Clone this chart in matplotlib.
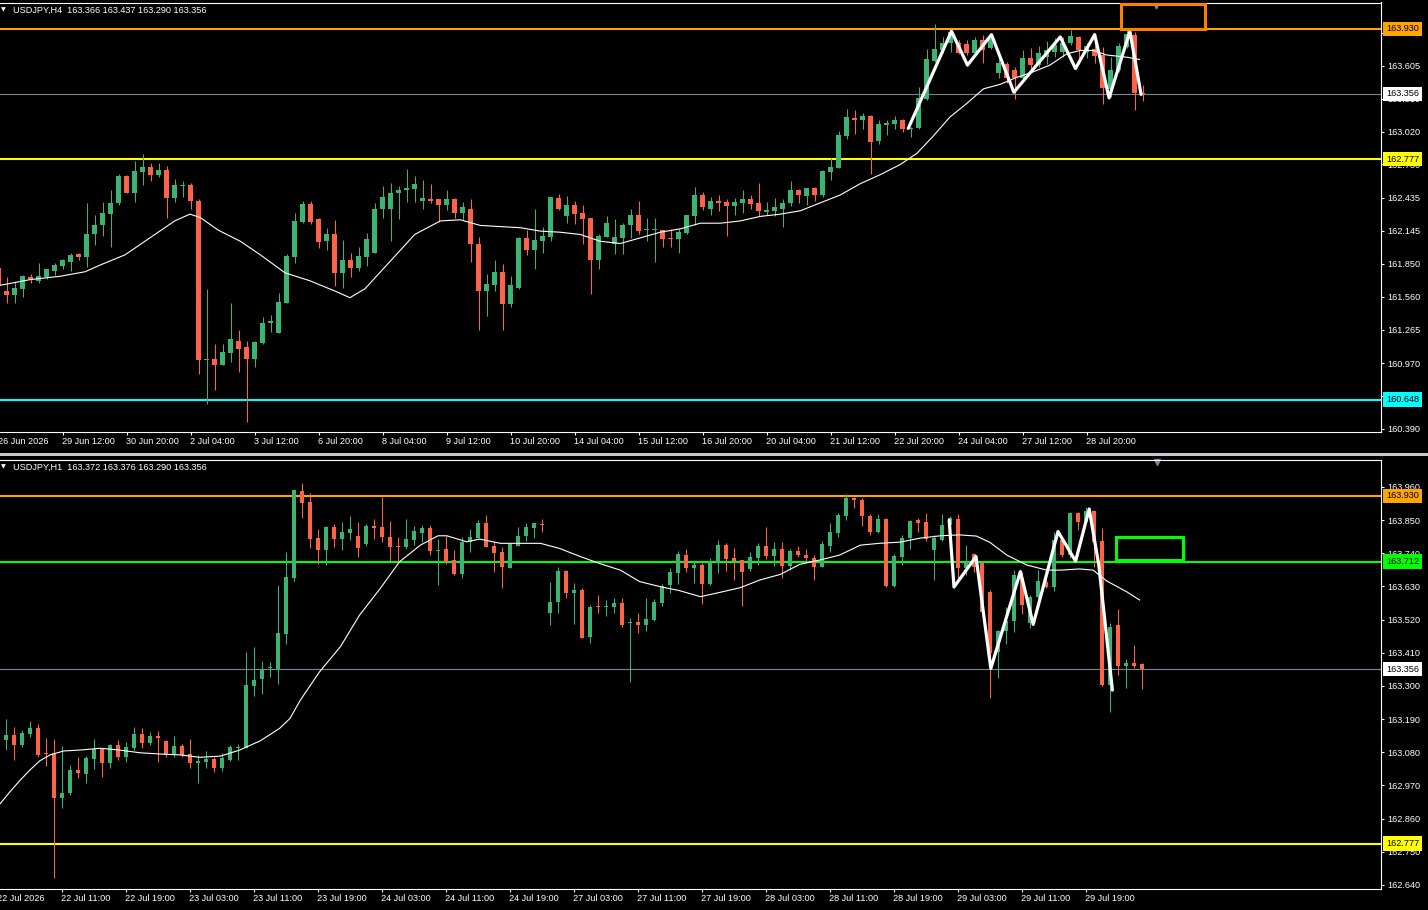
"""
USDJPY H4 / H1 two-panel candle chart in MT4 colours.
"""

import numpy as np
import matplotlib
matplotlib.use("Agg")
import matplotlib.pyplot as plt
from matplotlib.patches import Rectangle
from matplotlib.transforms import blended_transform_factory as blend

plt.rcParams['font.family'] = ['Liberation Sans', 'DejaVu Sans']

# ---------------- H4 panel data ----------------
h4_open = [161.81,161.61,161.57,161.63,161.73,161.70,161.73,161.79,161.83,161.87,161.94,161.91,
           162.11,162.19,162.29,162.39,162.63,162.48,162.66,162.71,162.64,162.68,162.43,162.54,
           162.55,162.41,161.00,161.01,160.95,161.06,161.17,161.11,161.01,161.15,161.33,161.24,
           161.50,161.91,162.22,162.38,162.25,162.05,162.11,161.77,161.88,161.81,161.91,161.95,
           162.34,162.34,162.48,162.50,162.51,162.41,162.42,162.42,162.37,162.42,162.30,162.34,
           162.03,161.61,161.66,161.78,161.49,161.64,162.08,161.97,162.05,162.09,162.43,162.27,
           162.37,162.30,162.26,161.88,162.09,162.03,162.08,162.19,162.28,162.15,162.15,162.15,
           162.08,162.07,162.12,162.27,162.46,162.34,162.41,162.40,162.36,162.39,162.42,162.39,
           162.31,162.32,162.34,162.39,162.50,162.45,162.52,162.46,162.66,162.70,162.98,163.14,
           163.12,163.16,162.94,163.08,163.09,163.12,163.04,163.05,163.31,163.65,163.74,163.81,
           163.81,163.80,163.72,163.83,163.76,163.54,163.62,163.57,163.50,163.67,163.61,163.68,
           163.73,163.73,163.81,163.86,163.73,163.75,163.70,163.40,163.57,163.77,163.88,163.366]
h4_high = [161.82,161.73,161.69,161.75,161.76,161.86,161.80,161.86,161.89,161.95,161.95,162.39,
           162.28,162.40,162.50,162.65,162.64,162.76,162.82,162.74,162.74,162.72,162.60,162.58,
           162.57,162.42,161.63,161.14,161.14,161.50,161.26,161.17,161.17,161.38,161.40,161.59,
           161.94,162.30,162.41,162.41,162.26,162.17,162.24,162.06,161.95,162.00,162.12,162.39,
           162.54,162.57,162.54,162.69,162.63,162.59,162.56,162.42,162.50,162.43,162.40,162.42,
           162.09,161.76,161.88,161.85,161.74,162.09,162.15,162.34,162.18,162.44,162.47,162.45,
           162.41,162.37,162.26,162.11,162.27,162.25,162.21,162.34,162.41,162.26,162.26,162.15,
           162.16,162.16,162.28,162.53,162.49,162.44,162.46,162.42,162.43,162.50,162.46,162.57,
           162.40,162.43,162.42,162.58,162.51,162.52,162.53,162.68,162.79,163.03,163.22,163.21,
           163.19,163.17,163.12,163.12,163.16,163.13,163.06,163.42,163.75,163.97,163.86,163.93,
           163.83,163.83,163.86,163.88,163.89,163.69,163.64,163.59,163.74,163.76,163.78,163.82,
           163.85,163.86,163.92,163.87,163.81,163.89,163.77,163.68,163.81,163.94,163.90,163.437]
h4_low = [161.62,161.50,161.50,161.56,161.68,161.68,161.72,161.75,161.80,161.79,161.88,161.82,
          162.02,162.10,162.00,162.37,162.48,162.40,162.55,162.58,162.62,162.26,162.40,162.44,
          162.34,160.87,160.61,160.73,160.95,160.98,160.89,160.45,160.94,161.14,161.25,161.24,
          161.50,161.86,162.21,162.20,161.99,161.97,161.65,161.64,161.73,161.79,161.83,161.95,
          162.26,162.05,162.25,162.40,162.40,162.34,162.39,162.22,162.33,162.26,162.24,161.87,
          161.26,161.39,161.61,161.26,161.47,161.63,161.93,161.80,161.95,162.05,162.33,162.21,
          162.20,162.03,161.58,161.80,162.09,161.94,161.94,162.08,162.11,162.05,161.87,162.00,
          162.00,161.95,162.11,162.19,162.33,162.28,162.32,162.10,162.28,162.30,162.34,162.27,
          162.28,162.27,162.18,162.36,162.39,162.37,162.41,162.44,162.59,162.70,162.96,163.00,
          163.04,162.65,162.91,162.99,163.04,163.02,162.97,163.04,163.30,163.64,163.72,163.73,
          163.71,163.70,163.69,163.63,163.75,163.50,163.45,163.31,163.48,163.57,163.59,163.62,
          163.68,163.68,163.79,163.63,163.67,163.63,163.27,163.33,163.55,163.76,163.21,163.290]
h4_close = [161.66,161.57,161.64,161.74,161.72,161.74,161.80,161.84,161.88,161.93,161.91,162.11,
            162.19,162.30,162.39,162.63,162.48,162.67,162.71,162.64,162.68,162.43,162.55,162.55,
            162.41,161.00,161.01,160.95,161.07,161.18,161.10,161.01,161.16,161.33,161.34,161.51,
            161.92,162.23,162.38,162.22,162.04,162.11,161.77,161.88,161.81,161.92,162.07,162.34,
            162.44,162.48,162.50,162.52,162.56,162.43,162.41,162.37,162.42,162.30,162.35,162.03,
            161.61,161.67,161.78,161.49,161.66,162.08,161.97,162.06,162.10,162.44,162.34,162.37,
            162.29,162.25,161.88,162.10,162.21,162.09,162.19,162.28,162.14,162.15,162.16,162.07,
            162.07,162.13,162.28,162.46,162.35,162.41,162.39,162.36,162.40,162.42,162.38,162.32,
            162.33,162.35,162.39,162.50,162.46,162.52,162.46,162.67,162.71,162.99,163.15,163.12,
            163.16,162.93,163.09,163.10,163.12,163.04,163.05,163.32,163.66,163.75,163.81,163.90,
            163.72,163.72,163.83,163.74,163.84,163.63,163.50,163.50,163.67,163.61,163.72,163.74,
            163.79,163.81,163.87,163.74,163.78,163.69,163.41,163.57,163.78,163.89,163.36,163.356]

h4_ma_x = [0.2,3.9,7.7,10.8,12.7,15.8,18.9,22.0,23.9,25.2,27.4,30.2,32.7,35.8,38.9,42.0,43.9,45.8,
           48.9,52.0,55.2,57.7,60.2,62.7,65.2,67.7,70.2,72.7,75.2,77.7,80.2,82.7,85.2,87.7,90.2,
           92.7,95.2,97.7,100.2,102.7,105.2,107.7,110.2,112.7,114.8,116.8,118.9,121.0,123.1,
           125.2,127.2,129.3,131.4,133.5,135.2,136.8,138.5,141.0,142.6]
h4_ma = [161.66,161.71,161.74,161.78,161.84,161.93,162.08,162.23,162.29,162.26,162.15,162.05,
         161.93,161.77,161.70,161.61,161.55,161.63,161.87,162.11,162.23,162.24,162.19,162.18,
         162.17,162.14,162.13,162.11,162.05,162.03,162.08,162.13,162.16,162.21,162.21,162.23,
         162.27,162.29,162.32,162.39,162.46,162.56,162.64,162.73,162.83,162.98,163.15,163.27,
         163.40,163.44,163.50,163.55,163.61,163.71,163.74,163.74,163.70,163.68,163.66]

h4_zig_x = [113.7, 119.1, 121.1, 124.1, 126.9, 132.7, 134.6, 137.0, 138.8, 141.4, 142.8]
h4_zig = [163.05, 163.91, 163.61, 163.88, 163.37, 163.86, 163.58, 163.88, 163.32, 163.91, 163.35]

h4_dates = ["26 Jun 2026", "29 Jun 12:00", "30 Jun 20:00", "2 Jul 04:00", "3 Jul 12:00",
            "6 Jul 20:00", "8 Jul 04:00", "9 Jul 12:00", "10 Jul 20:00", "14 Jul 04:00",
            "15 Jul 12:00", "16 Jul 20:00", "20 Jul 04:00", "21 Jul 12:00", "22 Jul 20:00",
            "24 Jul 04:00", "27 Jul 12:00", "28 Jul 20:00"]
h4_ticks = [163.895, 163.605, 163.310, 163.020, 162.730, 162.435, 162.145, 161.850,
            161.560, 161.265, 160.970, 160.680, 160.390]
h4_levels = [163.930, 162.777, 160.648]
h4_box = [140.3, 150.8, 163.930, 164.151]   # x0, x1, y0, y1

# ---------------- H1 panel data ----------------
h1_open = [163.177,163.120,163.137,163.104,163.140,163.160,163.077,163.077,162.928,162.945,163.021,163.008,
           163.057,163.091,163.044,163.104,163.064,163.094,163.140,163.110,163.134,163.117,163.071,163.101,
           163.074,163.044,163.047,163.057,163.028,163.054,163.094,163.094,163.300,163.323,163.359,163.356,
           163.472,163.658,163.947,163.910,163.791,163.751,163.827,163.787,163.807,163.797,163.771,163.830,
           163.827,163.794,163.764,163.761,163.784,163.807,163.824,163.748,163.754,163.718,163.671,163.777,
           163.791,163.840,163.764,163.744,163.691,163.764,163.797,163.824,163.837,163.542,163.578,163.681,
           163.608,163.618,163.462,163.565,163.562,163.562,163.575,163.509,163.512,163.502,163.519,163.575,
           163.635,163.675,163.734,163.691,163.701,163.638,163.711,163.767,163.724,163.718,163.688,163.724,
           163.764,163.731,163.754,163.698,163.748,163.734,163.724,163.694,163.764,163.807,163.864,163.923,
           163.917,163.864,163.811,163.854,163.631,163.728,163.791,163.850,163.844,163.751,163.784,163.834,
           163.854,163.691,163.738,163.708,163.611,163.412,163.482,163.515,163.658,163.509,163.595,163.645,
           163.628,163.784,163.734,163.874,163.844,163.880,163.781,163.303,163.502,163.366,163.376,163.372]
h1_high = [163.187,163.190,163.164,163.154,163.183,163.174,163.127,163.124,163.101,163.037,163.064,163.067,
           163.124,163.094,163.107,163.120,163.114,163.164,163.160,163.147,163.150,163.120,163.134,163.107,
           163.124,163.071,163.084,163.064,163.077,163.104,163.107,163.412,163.429,163.383,163.379,163.635,
           163.744,163.953,163.973,163.940,163.821,163.830,163.837,163.844,163.864,163.844,163.837,163.854,
           163.927,163.847,163.794,163.854,163.830,163.834,163.834,163.787,163.797,163.751,163.794,163.821,
           163.850,163.867,163.777,163.761,163.771,163.827,163.840,163.840,163.854,163.645,163.694,163.684,
           163.641,163.625,163.568,163.602,163.585,163.592,163.592,163.525,163.542,163.592,163.588,163.638,
           163.691,163.748,163.754,163.711,163.708,163.724,163.784,163.774,163.757,163.718,163.744,163.774,
           163.827,163.777,163.777,163.754,163.764,163.754,163.734,163.781,163.840,163.874,163.937,163.927,
           163.923,163.870,163.870,163.857,163.738,163.801,163.850,163.857,163.874,163.801,163.870,163.864,
           163.870,163.767,163.741,163.714,163.618,163.485,163.562,163.684,163.678,163.602,163.684,163.655,
           163.811,163.791,163.877,163.877,163.894,163.884,163.824,163.509,163.555,163.389,163.436,163.376]
h1_low = [163.104,163.087,163.054,163.097,163.130,163.064,163.034,162.663,162.895,162.938,162.994,162.978,
          163.024,162.998,163.028,163.054,163.047,163.087,163.094,163.104,163.047,163.064,163.064,163.064,
          163.028,162.978,163.028,163.014,163.018,163.051,163.054,163.094,163.266,163.273,163.329,163.306,
          163.439,163.648,163.857,163.757,163.704,163.701,163.761,163.751,163.784,163.728,163.764,163.787,
          163.777,163.714,163.711,163.754,163.767,163.777,163.734,163.635,163.704,163.668,163.658,163.744,
          163.791,163.761,163.678,163.625,163.691,163.764,163.781,163.791,163.811,163.502,163.542,163.592,
          163.505,163.459,163.442,163.542,163.532,163.542,163.495,163.313,163.475,163.482,163.515,163.565,
          163.608,163.638,163.678,163.641,163.572,163.635,163.675,163.681,163.651,163.565,163.681,163.701,
          163.721,163.698,163.658,163.684,163.728,163.711,163.651,163.694,163.744,163.794,163.850,163.890,
          163.830,163.801,163.807,163.628,163.628,163.701,163.754,163.811,163.781,163.651,163.781,163.827,
          163.658,163.668,163.678,163.545,163.260,163.326,163.439,163.479,163.538,163.492,163.592,163.625,
          163.615,163.728,163.724,163.817,163.840,163.694,163.300,163.213,163.336,163.293,163.359,163.290]
h1_close = [163.120,163.137,163.104,163.144,163.160,163.071,163.074,162.928,162.945,163.021,163.011,163.061,
            163.091,163.044,163.104,163.064,163.097,163.140,163.110,163.134,163.127,163.071,163.101,163.071,
            163.044,163.051,163.057,163.028,163.061,163.097,163.097,163.303,163.320,163.356,163.363,163.475,
            163.661,163.950,163.907,163.787,163.751,163.827,163.787,163.811,163.821,163.757,163.830,163.824,
            163.794,163.761,163.761,163.787,163.814,163.824,163.748,163.751,163.711,163.671,163.777,163.794,
            163.840,163.761,163.741,163.694,163.771,163.797,163.827,163.840,163.834,163.578,163.681,163.608,
            163.618,163.459,163.562,163.562,163.565,163.575,163.502,163.512,163.502,163.522,163.578,163.631,
            163.678,163.738,163.691,163.701,163.638,163.711,163.767,163.721,163.714,163.678,163.728,163.764,
            163.731,163.754,163.698,163.748,163.734,163.724,163.694,163.771,163.811,163.867,163.923,163.917,
            163.864,163.811,163.854,163.631,163.731,163.791,163.847,163.840,163.787,163.791,163.834,163.857,
            163.691,163.711,163.694,163.545,163.409,163.482,163.515,163.668,163.568,163.595,163.648,163.628,
            163.784,163.734,163.874,163.844,163.880,163.777,163.303,163.495,163.366,163.376,163.366,163.356]

h1_ma_x = [0.2,1.5,2.8,4.0,5.2,6.5,8.2,10.2,12.8,15.2,17.8,20.2,22.8,25.2,27.8,30.2,32.8,35.2,36.5,
           37.8,40.2,42.8,45.2,47.8,50.2,52.8,55.0,56.1,58.6,60.2,62.8,65.2,67.8,70.2,72.8,75.2,77.8,
           80.2,82.8,85.2,87.8,90.2,92.8,95.2,97.8,100.2,102.8,105.2,107.8,110.2,112.8,115.2,117.8,
           120.2,122.3,124.0,126.1,128.6,131.1,132.8,135.2,136.9,138.6,141.1,142.7]
h1_ma = [162.907,162.949,162.988,163.021,163.051,163.071,163.084,163.087,163.093,163.087,163.078,
         163.074,163.071,163.063,163.067,163.087,163.118,163.159,163.192,163.253,163.347,163.430,
         163.535,163.624,163.712,163.767,163.798,163.798,163.778,163.787,163.773,163.773,163.773,
         163.756,163.729,163.706,163.684,163.646,163.629,163.616,163.596,163.610,163.626,163.651,
         163.670,163.703,163.718,163.734,163.767,163.773,163.777,163.790,163.798,163.801,163.797,
         163.776,163.734,163.701,163.684,163.684,163.688,163.684,163.648,163.612,163.585]

h1_zig_x = [118.9, 119.5, 122.25, 124.1, 127.8, 129.4, 132.5, 134.7, 136.4, 137.6, 139.3]
h1_zig = [163.850, 163.628, 163.729, 163.358, 163.679, 163.504, 163.812, 163.714, 163.887, 163.701, 163.286]

h1_dates = ["22 Jul 2026", "22 Jul 11:00", "22 Jul 19:00", "23 Jul 03:00", "23 Jul 11:00",
            "23 Jul 19:00", "24 Jul 03:00", "24 Jul 11:00", "24 Jul 19:00", "27 Jul 03:00",
            "27 Jul 11:00", "27 Jul 19:00", "28 Jul 03:00", "28 Jul 11:00", "28 Jul 19:00",
            "29 Jul 03:00", "29 Jul 11:00", "29 Jul 19:00"]
h1_ticks = [163.960, 163.850, 163.740, 163.630, 163.520, 163.410, 163.300, 163.190,
            163.080, 162.970, 162.860, 162.750, 162.640]
h1_levels = [163.930, 163.712, 162.777]
h1_box = [139.75, 148.1, 163.717, 163.794]

bid = 163.356

for arr in (h4_high, h4_low, h4_close):
    assert len(arr) == len(h4_open)
for arr in (h1_high, h1_low, h1_close):
    assert len(arr) == len(h1_open)

GREEN = '#3CB371'
RED = '#FF6347'
LEVEL_COLORS = {163.930: '#FFA500', 162.777: '#FFFF00', 160.648: '#00FFFF', 163.712: '#00FF00'}
FS = 6.6


def candles(ax, o, h, l, c, px):
    o, h, l, c = map(np.asarray, (o, h, l, c))
    x = np.arange(len(o))
    col = np.where(c >= o, GREEN, RED)
    ax.vlines(x, l, h, colors=col, linewidth=0.75, zorder=3)
    body = np.maximum(np.abs(c - o), px)
    ax.bar(x, body, width=0.62, bottom=np.minimum(o, c), color=col,
           linewidth=0, zorder=3)


def tag(ax, y, txt, fc):
    ax.text(1.0038, y, txt, transform=blend(ax.transAxes, ax.transData),
            fontsize=FS, color='black', ha='left', va='center', clip_on=False,
            zorder=6, bbox=dict(boxstyle='square,pad=0.3', fc=fc, ec='none'))


def style_panel(ax, ylim, xlim, ticks, dates, header):
    ax.set_facecolor('black')
    ax.set_xlim(*xlim)
    ax.set_ylim(*ylim)
    for side in ('top', 'right', 'bottom'):
        ax.spines[side].set_color('white')
        ax.spines[side].set_linewidth(0.8)
    ax.spines['left'].set_visible(False)
    ax.yaxis.tick_right()
    ax.set_yticks(ticks)
    ax.set_yticklabels(["%.3f" % t for t in ticks])
    ax.tick_params(axis='y', colors='white', length=2.3, width=0.8,
                   labelsize=FS, pad=2.2)
    ax.set_xticks(np.arange(8, 8 * len(dates), 8))
    ax.tick_params(axis='x', colors='white', length=2.3, width=0.8,
                   labelbottom=False)
    tr = blend(ax.transData, ax.transAxes)
    for k, d in enumerate(dates):
        ax.text(8 * k - 0.1, -0.021, d, transform=tr, fontsize=FS,
                color='white', ha='left', va='center', clip_on=False)
    ax.text(0.0005, 0.9825, "\u25bc", transform=ax.transAxes, fontsize=4.5,
            color='white', ha='left', va='center', family='DejaVu Sans')
    ax.text(0.0092, 0.9825, header, transform=ax.transAxes, fontsize=FS,
            color='white', ha='left', va='center')


fig = plt.figure(figsize=(14.28, 9.1), dpi=100, facecolor='black')

# ---- H4 ----
ax1 = fig.add_axes([0, 478 / 910, 1381 / 1428, 429.5 / 910])
style_panel(ax1, (160.3605, 164.1647), (0.1625, 172.79), h4_ticks, h4_dates,
            "USDJPY,H4  163.366 163.437 163.290 163.356")
ax1.axhline(bid, color='#778899', linewidth=0.8, zorder=2)
for lv in h4_levels:
    ax1.axhline(lv, color=LEVEL_COLORS[lv], linewidth=1.5, zorder=2)
ax1.plot(h4_ma_x, h4_ma, color='white', linewidth=0.8, zorder=4)
candles(ax1, h4_open, h4_high, h4_low, h4_close, 0.009)
ax1.plot(h4_zig_x, h4_zig, color='white', linewidth=2.3, zorder=5,
         solid_joinstyle='round', solid_capstyle='round')
ax1.add_patch(Rectangle((h4_box[0], h4_box[2]), h4_box[1] - h4_box[0],
                        h4_box[3] - h4_box[2], fill=False, edgecolor='#FF8000',
                        linewidth=2.2, zorder=5))
ax1.plot([144.7], [0.992], marker='v', markersize=3.5, color='#778899',
         transform=blend(ax1.transData, ax1.transAxes), clip_on=False)
tag(ax1, 163.930, "163.930", LEVEL_COLORS[163.930])
tag(ax1, bid, "163.356", 'white')
tag(ax1, 162.777, "162.777", LEVEL_COLORS[162.777])
tag(ax1, 160.648, "160.648", LEVEL_COLORS[160.648])

# ---- H1 ----
ax2 = fig.add_axes([0, 21 / 910, 1381 / 1428, 429.5 / 910])
style_panel(ax2, (162.6261, 164.0511), (0.25, 172.875), h1_ticks, h1_dates,
            "USDJPY,H1  163.372 163.376 163.290 163.356")
ax2.axhline(bid, color='#778899', linewidth=0.8, zorder=2)
for lv in h1_levels:
    ax2.axhline(lv, color=LEVEL_COLORS[lv], linewidth=1.5, zorder=2)
ax2.plot(h1_ma_x, h1_ma, color='white', linewidth=0.8, zorder=4)
candles(ax2, h1_open, h1_high, h1_low, h1_close, 0.0033)
ax2.plot(h1_zig_x, h1_zig, color='white', linewidth=2.3, zorder=5,
         solid_joinstyle='round', solid_capstyle='round')
ax2.add_patch(Rectangle((h1_box[0], h1_box[2]), h1_box[1] - h1_box[0],
                        h1_box[3] - h1_box[2], fill=False, edgecolor='#00FF00',
                        linewidth=2.2, zorder=5))
ax2.plot([144.9], [0.994], marker='v', markersize=5, color='#778899',
         transform=blend(ax2.transData, ax2.transAxes), clip_on=False)
tag(ax2, 163.930, "163.930", LEVEL_COLORS[163.930])
tag(ax2, 163.712, "163.712", LEVEL_COLORS[163.712])
tag(ax2, bid, "163.356", 'white')
tag(ax2, 162.777, "162.777", LEVEL_COLORS[162.777])

# window separator between the two charts
fig.add_artist(Rectangle((0, (910 - 456) / 910), 1, 2.6 / 910, transform=fig.transFigure,
                         facecolor='#C8C8C8', edgecolor='none'))

fig.savefig("out.png", dpi=100, facecolor='black')
